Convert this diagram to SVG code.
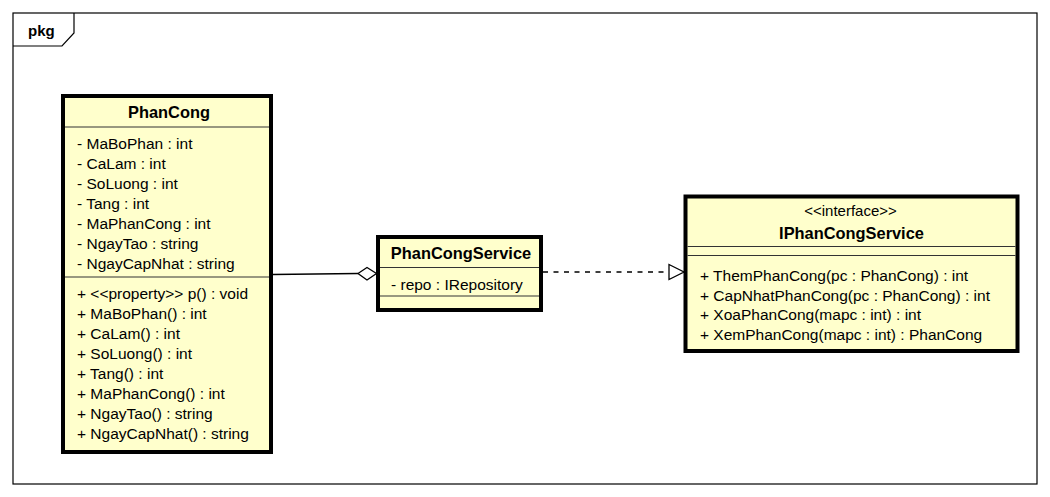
<svg xmlns="http://www.w3.org/2000/svg" width="1050" height="497" viewBox="0 0 1050 497">
  <style>
    text { font-family: "Liberation Sans", Arial, sans-serif; font-size: 15.5px; fill: #000; }
    .title { font-weight: bold; text-anchor: middle; font-size: 16.4px; }
    .stereo { text-anchor: middle; font-size: 15px; }
    .box { fill: #FFFFCC; stroke: #000; stroke-width: 4; }
    .div { stroke: #333; stroke-width: 1.2; }
    .frame { fill: none; stroke: #000; stroke-width: 1.2; }
    .conn { fill: none; stroke: #000; stroke-width: 1.3; }
  </style>

  <rect width="1050" height="497" fill="#fff"/>

  <!-- package frame -->
  <g id="pkg">
    <rect class="frame" x="13" y="13" width="1024" height="471"/>
    <polyline class="frame" points="13,46 62,46 74,33 74,13"/>
    <text x="28" y="36" style="font-weight:bold;font-size:15px">pkg</text>
  </g>

  <!-- connectors -->
  <g id="connectors">
    <!-- aggregation: PhanCong -> PhanCongService -->
    <line class="conn" x1="272" y1="274.5" x2="358" y2="273.5"/>
    <polygon points="358,273.5 367,267.5 376.5,273.5 367,280" fill="#fff" stroke="#000" stroke-width="1.3"/>
    <!-- realization: PhanCongService -> IPhanCongService -->
    <line class="conn" x1="543" y1="272" x2="669" y2="272" stroke-dasharray="5,5.5"/>
    <polygon points="669,264.5 684,272 669,279.5" fill="#fff" stroke="#000" stroke-width="1.3"/>
  </g>

  <g id="PhanCong">
    <rect class="box" x="63" y="96" width="208" height="356"/>
    <line class="div" x1="65" y1="127" x2="269" y2="127"/>
    <line class="div" x1="65" y1="277" x2="269" y2="277"/>
    <text class="title" x="169" y="117.5">PhanCong</text>
    <text x="77" y="148.5">- MaBoPhan : int</text>
    <text x="77" y="168.5">- CaLam : int</text>
    <text x="77" y="188.5">- SoLuong : int</text>
    <text x="77" y="208.5">- Tang : int</text>
    <text x="77" y="228.5">- MaPhanCong : int</text>
    <text x="77" y="248.5">- NgayTao : string</text>
    <text x="77" y="268.5">- NgayCapNhat : string</text>
    <text x="77" y="299">+ &lt;&lt;property&gt;&gt; p() : void</text>
    <text x="77" y="319">+ MaBoPhan() : int</text>
    <text x="77" y="339">+ CaLam() : int</text>
    <text x="77" y="359">+ SoLuong() : int</text>
    <text x="77" y="379">+ Tang() : int</text>
    <text x="77" y="399">+ MaPhanCong() : int</text>
    <text x="77" y="419">+ NgayTao() : string</text>
    <text x="77" y="439">+ NgayCapNhat() : string</text>
  </g>

  <g id="PhanCongService">
    <rect class="box" x="378" y="237" width="163" height="73"/>
    <line class="div" x1="380" y1="267.5" x2="539" y2="267.5"/>
    <line class="div" x1="380" y1="296" x2="539" y2="296"/>
    <text class="title" x="461" y="258.5">PhanCongService</text>
    <text x="391" y="289.5">- repo : IRepository</text>
  </g>

  <g id="IPhanCongService">
    <rect class="box" x="685.5" y="196.5" width="332" height="154.5"/>
    <line class="div" x1="687.5" y1="246.5" x2="1015.5" y2="246.5"/>
    <line class="div" x1="687.5" y1="255.5" x2="1015.5" y2="255.5"/>
    <text class="stereo" x="850.5" y="216">&lt;&lt;interface&gt;&gt;</text>
    <text class="title" x="851.5" y="239">IPhanCongService</text>
    <text x="700" y="280.5">+ ThemPhanCong(pc : PhanCong) : int</text>
    <text x="700" y="300.5">+ CapNhatPhanCong(pc : PhanCong) : int</text>
    <text x="700" y="320">+ XoaPhanCong(mapc : int) : int</text>
    <text x="700" y="339.5">+ XemPhanCong(mapc : int) : PhanCong</text>
  </g>
</svg>
